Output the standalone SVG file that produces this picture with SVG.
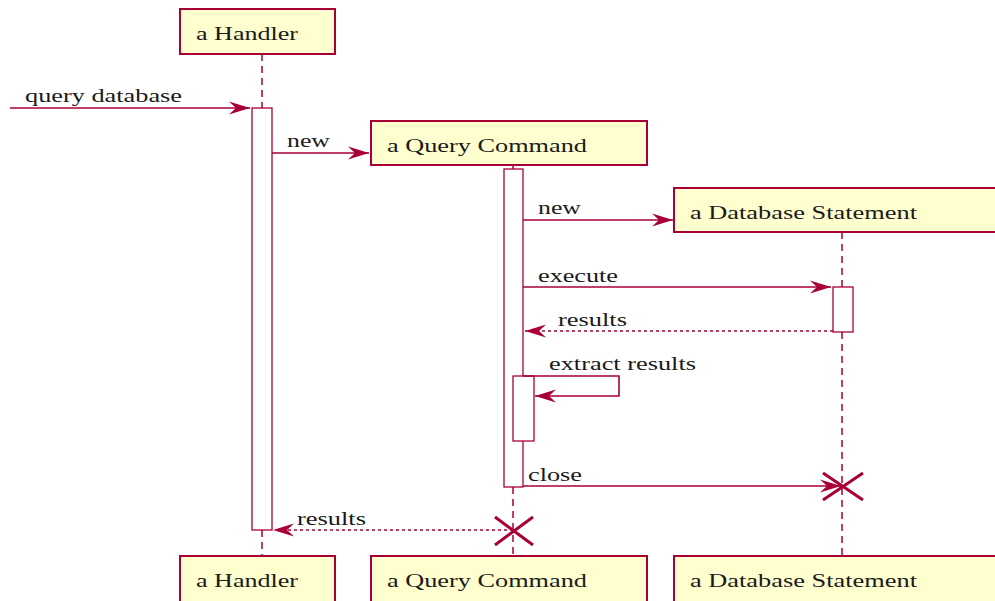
<svg xmlns="http://www.w3.org/2000/svg" width="995" height="601" viewBox="0 0 995 601">
  <style>
    .participant rect { fill: #FEFECE; stroke: #A80036; stroke-width: 2; }
    .label { font-family: "Liberation Serif", "Times New Roman", serif; font-size: 19px; fill: #1a1a1a; }
    .lifeline { stroke: #A80036; stroke-width: 1.5; stroke-dasharray: 7,5; fill: none; }
    .activation { fill: #FFFFFF; stroke: #A80036; stroke-width: 1.3; }
    .msg { stroke: #A80036; stroke-width: 1.6; fill: none; }
    .reply { stroke: #A80036; stroke-width: 1.6; fill: none; stroke-dasharray: 3,3; }
    .destroy { stroke: #A80036; stroke-width: 3; fill: none; }
  </style>
  <defs>
    <marker id="arrow" markerUnits="userSpaceOnUse" markerWidth="24" markerHeight="16" refX="21" refY="7" orient="auto" viewBox="0 0 24 16">
      <polygon points="0,0.5 21,7 0,13.5 7,7" fill="#A80036"/>
    </marker>
  </defs>

  <rect width="995" height="601" fill="#FFFFFF"/>

  <!-- lifelines -->
  <g id="lifelines">
    <line class="lifeline" x1="262" y1="54" x2="262" y2="108"/>
    <line class="lifeline" x1="262" y1="530" x2="262" y2="556"/>
    <line class="lifeline" x1="513" y1="165" x2="513" y2="169"/>
    <line class="lifeline" x1="513" y1="487" x2="513" y2="556"/>
    <line class="lifeline" x1="842" y1="232" x2="842" y2="287"/>
    <line class="lifeline" x1="842" y1="332" x2="842" y2="556"/>
  </g>

  <!-- activation bars -->
  <g id="activations">
    <rect class="activation" x="252" y="108" width="20" height="422"/>
    <rect class="activation" x="504" y="169" width="19" height="318"/>
    <rect class="activation" x="513" y="376" width="21" height="65"/>
    <rect class="activation" x="833" y="287" width="20" height="45"/>
  </g>

  <!-- participants (top) -->
  <g id="handler-top" class="participant">
    <rect x="180" y="9" width="155" height="45"/>
    <text class="label" x="196" y="40" textLength="102" lengthAdjust="spacingAndGlyphs">a Handler</text>
  </g>
  <g id="query-command-top" class="participant">
    <rect x="371" y="121" width="276" height="44"/>
    <text class="label" x="387" y="152" textLength="200" lengthAdjust="spacingAndGlyphs">a Query Command</text>
  </g>
  <g id="database-statement-top" class="participant">
    <rect x="674" y="188" width="340" height="44"/>
    <text class="label" x="690" y="219" textLength="227" lengthAdjust="spacingAndGlyphs">a Database Statement</text>
  </g>

  <!-- participants (bottom) -->
  <g id="handler-bottom" class="participant">
    <rect x="180" y="556" width="155" height="50"/>
    <text class="label" x="196" y="587" textLength="102" lengthAdjust="spacingAndGlyphs">a Handler</text>
  </g>
  <g id="query-command-bottom" class="participant">
    <rect x="371" y="556" width="276" height="50"/>
    <text class="label" x="387" y="587" textLength="200" lengthAdjust="spacingAndGlyphs">a Query Command</text>
  </g>
  <g id="database-statement-bottom" class="participant">
    <rect x="674" y="556" width="340" height="50"/>
    <text class="label" x="690" y="587" textLength="227" lengthAdjust="spacingAndGlyphs">a Database Statement</text>
  </g>

  <!-- messages -->
  <g id="connectors">
    <line class="msg" x1="10" y1="108" x2="250" y2="108" marker-end="url(#arrow)"/>
    <text class="label" x="25" y="102" textLength="157" lengthAdjust="spacingAndGlyphs">query database</text>

    <line class="msg" x1="272" y1="153" x2="369" y2="153" marker-end="url(#arrow)"/>
    <text class="label" x="287" y="147" textLength="43" lengthAdjust="spacingAndGlyphs">new</text>

    <line class="msg" x1="523" y1="220" x2="673" y2="220" marker-end="url(#arrow)"/>
    <text class="label" x="538" y="214" textLength="43" lengthAdjust="spacingAndGlyphs">new</text>

    <line class="msg" x1="523" y1="287" x2="831" y2="287" marker-end="url(#arrow)"/>
    <text class="label" x="538" y="282" textLength="80" lengthAdjust="spacingAndGlyphs">execute</text>

    <line class="reply" x1="833" y1="331" x2="525" y2="331" marker-end="url(#arrow)"/>
    <text class="label" x="558" y="326" textLength="69" lengthAdjust="spacingAndGlyphs">results</text>

    <polyline class="msg" points="523,376 619,376 619,396 535,396" marker-end="url(#arrow)"/>
    <text class="label" x="549" y="370" textLength="147" lengthAdjust="spacingAndGlyphs">extract results</text>

    <line class="msg" x1="523" y1="486" x2="841" y2="486" marker-end="url(#arrow)"/>
    <text class="label" x="528" y="481" textLength="54" lengthAdjust="spacingAndGlyphs">close</text>

    <line class="reply" x1="513" y1="530" x2="273" y2="530" marker-end="url(#arrow)"/>
    <text class="label" x="297" y="525" textLength="69" lengthAdjust="spacingAndGlyphs">results</text>
  </g>

  <!-- destruction marks -->
  <g id="destroy-database-statement">
    <path class="destroy" d="M823,473 L863,500 M823,500 L863,473"/>
  </g>
  <g id="destroy-query-command">
    <path class="destroy" d="M495,517 L533,545 M495,545 L533,517"/>
  </g>
</svg>
